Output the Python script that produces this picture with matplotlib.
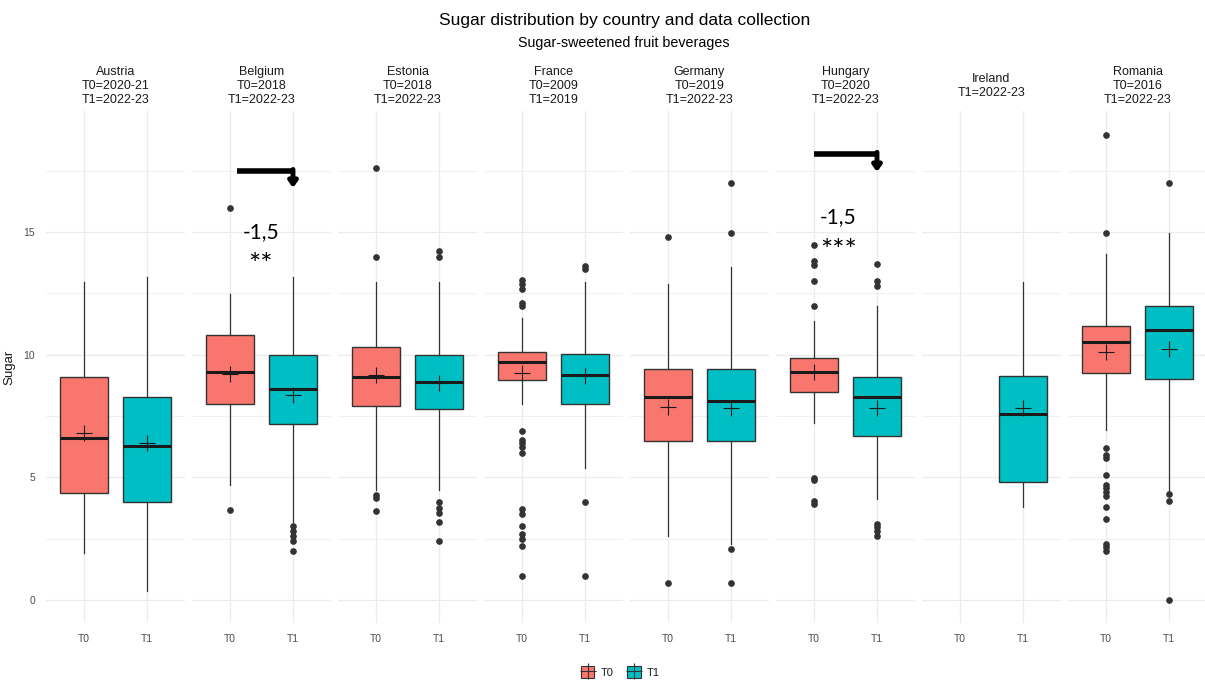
import matplotlib

matplotlib.use("Agg")
import matplotlib.pyplot as plt  # noqa: E402
from matplotlib.patches import Patch  # noqa: E402
from matplotlib.lines import Line2D  # noqa: E402
from matplotlib.legend_handler import HandlerTuple  # noqa: E402

plt.rcParams["font.family"] = ["Liberation Sans", "DejaVu Sans"]

# ---- data ------------------------------------------------------------------
countries = ["Austria", "Belgium", "Estonia", "France", "Germany", "Hungary", "Ireland", "Romania"]
t0_years = ["2020-21", "2018", "2018", "2009", "2019", "2020", None, "2016"]
t1_years = ["2022-23", "2022-23", "2022-23", "2019", "2022-23", "2022-23", "2022-23", "2022-23"]

# T0 boxes (None = no T0 data collection)
t0_q1 = [4.38, 7.99, 7.91, 8.98, 6.49, 8.49, None, 9.25]
t0_med = [6.60, 9.28, 9.10, 9.70, 8.29, 9.29, None, 10.50]
t0_q3 = [9.07, 10.79, 10.30, 10.12, 9.41, 9.87, None, 11.18]
t0_lo = [1.90, 4.70, 4.49, 8.01, 2.59, 7.21, None, 6.92]
t0_hi = [12.97, 12.49, 12.97, 11.49, 12.89, 11.37, None, 14.10]
t0_mean = [6.80, 9.22, 9.19, 9.25, 7.88, 9.29, None, 10.09]
t0_out = [
    [],
    [15.99, 3.68],
    [17.59, 14.0, 4.27, 4.15, 3.61],
    [13.03, 12.89, 12.68, 12.1, 11.98, 6.89, 6.52, 6.38, 6.23, 6.01,
     3.71, 3.51, 3.0, 2.69, 2.49, 2.20, 0.99],
    [14.8, 0.70],
    [14.49, 13.8, 13.66, 13.0, 11.98, 4.99, 4.88, 4.02, 3.90],
    [],
    [18.97, 14.98, 6.19, 5.90, 5.80, 5.10, 4.70, 4.56, 4.41, 4.22,
     3.79, 3.32, 2.30, 2.16, 2.01],
]

# T1 boxes
t1_q1 = [3.99, 7.18, 7.80, 7.99, 6.49, 6.70, 4.81, 9.00]
t1_med = [6.29, 8.61, 8.88, 9.19, 8.10, 8.29, 7.59, 10.99]
t1_q3 = [8.29, 9.99, 9.99, 10.02, 9.41, 9.09, 9.15, 11.98]
t1_lo = [0.38, 3.17, 4.49, 5.40, 2.30, 4.12, 3.80, 4.41]
t1_hi = [13.18, 13.18, 12.97, 12.97, 13.59, 11.98, 12.97, 14.98]
t1_mean = [6.38, 8.37, 8.85, 9.12, 7.81, 7.81, 7.81, 10.24]
t1_out = [
    [],
    [3.0, 2.81, 2.59, 2.40, 2.01],
    [14.21, 14.0, 3.99, 3.76, 3.54, 3.17, 2.40],
    [13.63, 13.51, 3.99, 0.99],
    [16.98, 14.98, 2.08, 0.70],
    [13.69, 13.0, 12.81, 3.10, 2.96, 2.81, 2.59],
    [],
    [16.98, 4.34, 4.02, 0.0],
]

# significance annotations: country -> (difference label, stars)
signif = {"Belgium": ("-1,5", "**"), "Hungary": ("-1,5", "***")}

# ---- styling ---------------------------------------------------------------
C_T0 = "#F8766D"
C_T1 = "#00BFC4"
EDGE = "#333333"
GRID = "#EBEBEB"
TICK = "#4D4D4D"

W, H = 1205, 682
fig = plt.figure(figsize=(W / 100, H / 100), dpi=100)

unit = 63.0          # pixels per discrete x step
left0 = 46.2
step = 146.0
pw = 2.2 * unit
ymin, ymax = -0.95, 19.95
bot = 1 - 623.3 / H
top = 1 - 110.6 / H


def stat(q1, med, q3, lo, hi, mean, out):
    return dict(q1=q1, med=med, q3=q3, whislo=lo, whishi=hi, mean=mean, fliers=out)


for i, name in enumerate(countries):
    ax = fig.add_axes([(left0 + i * step) / W, bot, pw / W, top - bot])

    stats, pos, cols = [], [], []
    if t0_q1[i] is not None:
        stats.append(stat(t0_q1[i], t0_med[i], t0_q3[i], t0_lo[i], t0_hi[i], t0_mean[i], t0_out[i]))
        pos.append(1)
        cols.append(C_T0)
    stats.append(stat(t1_q1[i], t1_med[i], t1_q3[i], t1_lo[i], t1_hi[i], t1_mean[i], t1_out[i]))
    pos.append(2)
    cols.append(C_T1)

    bp = ax.bxp(stats, positions=pos, widths=0.75, patch_artist=True, showmeans=True,
                showcaps=False, manage_ticks=False,
                boxprops=dict(edgecolor=EDGE, lw=1.0),
                whiskerprops=dict(color=EDGE, lw=0.9),
                medianprops=dict(color="#1A1A1A", lw=2.2),
                meanprops=dict(marker="+", markersize=11, markeredgecolor="#1A1A1A",
                               markeredgewidth=0.8),
                flierprops=dict(marker="o", markersize=3.8, markerfacecolor=EDGE,
                                markeredgecolor=EDGE))
    for patch, c in zip(bp["boxes"], cols):
        patch.set_facecolor(c)

    ax.set_xlim(0.4, 2.6)
    ax.set_ylim(ymin, ymax)
    for s in ax.spines.values():
        s.set_visible(False)
    ax.set_yticks([0, 5, 10, 15])
    ax.set_yticks([2.5, 7.5, 12.5, 17.5], minor=True)
    ax.set_xticks([1, 2])
    ax.set_xticklabels(["T0", "T1"])
    ax.grid(True, which="major", color=GRID, lw=0.9)
    ax.grid(True, which="minor", axis="y", color=GRID, lw=0.5)
    ax.set_axisbelow(True)
    ax.tick_params(which="both", length=0, labelsize=7.5, labelcolor=TICK, pad=8)
    if i == 0:
        ax.set_ylabel("Sugar", fontsize=9.5, color="#1A1A1A", labelpad=6)
    else:
        ax.set_yticklabels([])

    # strip label
    lines = [name]
    if t0_years[i] is not None:
        lines.append("T0=" + t0_years[i])
    lines.append("T1=" + t1_years[i])
    ax.text(1.5, 1.0 + 24.5 / (623.3 - 110.6), "\n".join(lines), transform=ax.get_xaxis_transform(),
            ha="center", va="center", fontsize=9, color="#1A1A1A", linespacing=1.18)

    if name in signif:
        diff, stars = signif[name]
        if name == "Belgium":
            x0, yb, yt, tx, ty = 1.11, 17.47, 16.8, 1.49, 15.0
        else:
            x0, yb, yt, tx, ty = 1.0, 18.17, 17.45, 1.385, 15.6
        ax.plot([x0, 2.02], [yb, yb], color="black", lw=4.0, solid_capstyle="butt", zorder=5)
        ax.annotate("", xy=(2.0, yt), xytext=(2.0, yb + 0.08),
                    arrowprops=dict(arrowstyle="-|>,head_width=0.25,head_length=0.35",
                                    color="black", lw=3.5, shrinkA=0, shrinkB=0), zorder=5)
        ax.text(tx, ty, diff, ha="center", va="center", fontsize=15, family="Lato", zorder=6)
        ax.text(tx, ty - 1.4, stars, ha="center", va="center", fontsize=21, family="Lato", zorder=6)

fig.text(0.518, 1 - 20 / H, "Sugar distribution by country and data collection",
         ha="center", va="center", fontsize=12.5)
fig.text(0.518, 1 - 43 / H, "Sugar-sweetened fruit beverages",
         ha="center", va="center", fontsize=10.3)

handles = [
    (Patch(facecolor=C_T0, edgecolor=EDGE, lw=0.8),
     Line2D([], [], marker="+", markersize=12, markeredgecolor=EDGE, markeredgewidth=0.8, ls="")),
    (Patch(facecolor=C_T1, edgecolor=EDGE, lw=0.8),
     Line2D([], [], marker="+", markersize=12, markeredgecolor=EDGE, markeredgewidth=0.8, ls="")),
]
fig.legend(handles, ["T0", "T1"], handler_map={tuple: HandlerTuple(ndivide=1)},
           loc="center", bbox_to_anchor=(0.515, 1 - 672 / H), ncol=2, frameon=False,
           fontsize=8, handlelength=1.2, handleheight=1.2, columnspacing=1.2,
           handletextpad=0.6, labelcolor="#1A1A1A")

fig.savefig("out.png", dpi=100)
